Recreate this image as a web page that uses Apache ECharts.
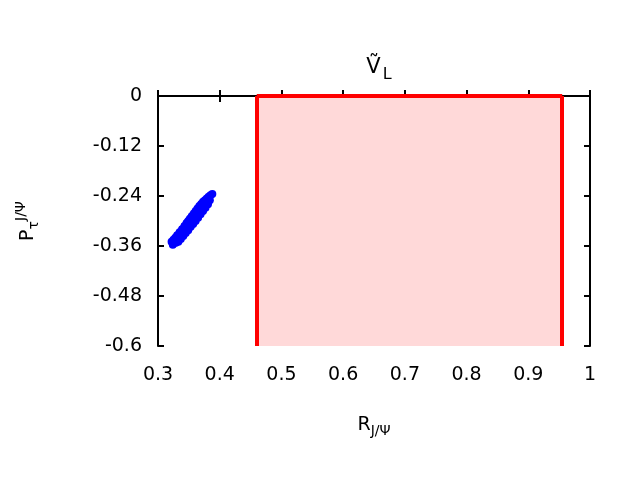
<!DOCTYPE html><html><head><meta charset="utf-8"><script src="https://cdn.jsdelivr.net/npm/echarts@6/dist/echarts.min.js"></script></head><body style="margin:0"><div id="c" style="width:640px;height:480px"></div><script>
const xTicks=[0.3,0.4,0.5,0.6,0.7,0.8,0.9,1];
const yTicks=[0,-0.12,-0.24,-0.36,-0.48,-0.6];
const bandX=[0.46,0.955];
const pts=[[0.324,-0.357],[0.326,-0.352],[0.328,-0.347],[0.330,-0.342],[0.332,-0.337],[0.334,-0.332],[0.337,-0.326],[0.340,-0.320],[0.343,-0.313],[0.346,-0.306],[0.349,-0.300],[0.352,-0.294],[0.355,-0.288],[0.358,-0.282],[0.361,-0.276],[0.364,-0.270],[0.367,-0.264],[0.370,-0.259],[0.373,-0.254],[0.376,-0.250],[0.379,-0.246],[0.382,-0.242],[0.385,-0.238],[0.388,-0.235],
[0.322,-0.350],[0.325,-0.345],[0.328,-0.340],[0.331,-0.334],[0.335,-0.327],[0.339,-0.320],[0.343,-0.312],[0.347,-0.304],[0.351,-0.297],[0.355,-0.290],[0.359,-0.283],[0.363,-0.276],[0.367,-0.268],[0.371,-0.261],[0.375,-0.255],[0.379,-0.249],
[0.329,-0.352],[0.332,-0.346],[0.336,-0.340],[0.340,-0.333],[0.344,-0.325],[0.348,-0.318],[0.352,-0.311],[0.356,-0.303],[0.360,-0.296],[0.364,-0.288],[0.368,-0.280],[0.372,-0.272],[0.376,-0.264],[0.380,-0.257],[0.384,-0.250],
[0.333,-0.350],[0.337,-0.343],[0.341,-0.336],[0.345,-0.329],[0.349,-0.322],[0.353,-0.314],[0.357,-0.307],[0.361,-0.300],[0.365,-0.292],[0.369,-0.284],[0.373,-0.276],[0.377,-0.268],[0.381,-0.260]];
const ch=echarts.init(document.getElementById('c'));
const f='DejaVu Sans';
const lab={fontSize:19,fontFamily:f,color:'#000',margin:14};
const fmt=(arr)=>v=>{const t=arr.find(a=>Math.abs(a-v)<1e-6);return t===undefined?'':String(t);};
const axCommon={axisLine:{lineStyle:{color:'#000',width:2}},axisTick:{inside:true,length:6,lineStyle:{color:'#000',width:2}},splitLine:{show:false}};
ch.setOption({animation:false,
title:{text:'{v|Ṽ}{s|L}',left:374,top:48,textAlign:'center',textStyle:{fontWeight:'normal',fontSize:20,fontFamily:f,rich:{v:{fontSize:21,fontFamily:f,color:'#000',fontWeight:'normal'},s:{fontSize:16,fontFamily:f,color:'#000',fontWeight:'normal',padding:[14,0,0,2]}}}},
grid:{left:158,right:50,top:96,bottom:134},
xAxis:[{type:'value',min:0.3,max:1,interval:0.1,...axCommon,
 axisLabel:{...lab,margin:20,formatter:fmt(xTicks)},
 name:'{m|R}{s|J/Ψ}',nameLocation:'middle',nameGap:66,nameTextStyle:{fontSize:19,fontFamily:f,rich:{m:{fontSize:19,fontFamily:f,color:'#000'},s:{fontSize:14,fontFamily:f,color:'#000',padding:[12,0,0,0]}}}},
 {type:'value',position:'top',min:0.3,max:1,interval:0.1,...axCommon,axisLabel:{show:false}}],
yAxis:[{type:'value',min:-0.6,max:0,interval:0.12,...axCommon,
 axisLabel:{...lab,margin:16,formatter:fmt(yTicks)},
 name:'{m|P}{s|τ}{p|J/Ψ}',nameLocation:'middle',nameGap:116,nameRotate:90,nameTextStyle:{fontSize:19,fontFamily:f,rich:{m:{fontSize:19,fontFamily:f,color:'#000'},s:{fontSize:14,fontFamily:f,color:'#000',padding:[12,0,0,0]},p:{fontSize:14,fontFamily:f,color:'#000',padding:[0,0,14,0]}}}},
 {type:'value',position:'right',min:-0.6,max:0,interval:0.12,...axCommon,axisLabel:{show:false}}],
series:[{type:'scatter',data:pts,symbolSize:8,itemStyle:{color:'#0000ff',opacity:1},
 markArea:{silent:true,itemStyle:{color:'#ffd9d9'},data:[[{xAxis:bandX[0],yAxis:-0.6},{xAxis:bandX[1],yAxis:0}]]},
 markLine:{silent:true,symbol:'none',label:{show:false},lineStyle:{color:'#ff0000',width:4,type:'solid'},
  data:[[{coord:[bandX[0],-0.6]},{coord:[bandX[0],0]}],[{coord:[bandX[1],-0.6]},{coord:[bandX[1],0]}],[{coord:[bandX[0],0]},{coord:[bandX[1],0]}]]}}]});
</script></body></html>
